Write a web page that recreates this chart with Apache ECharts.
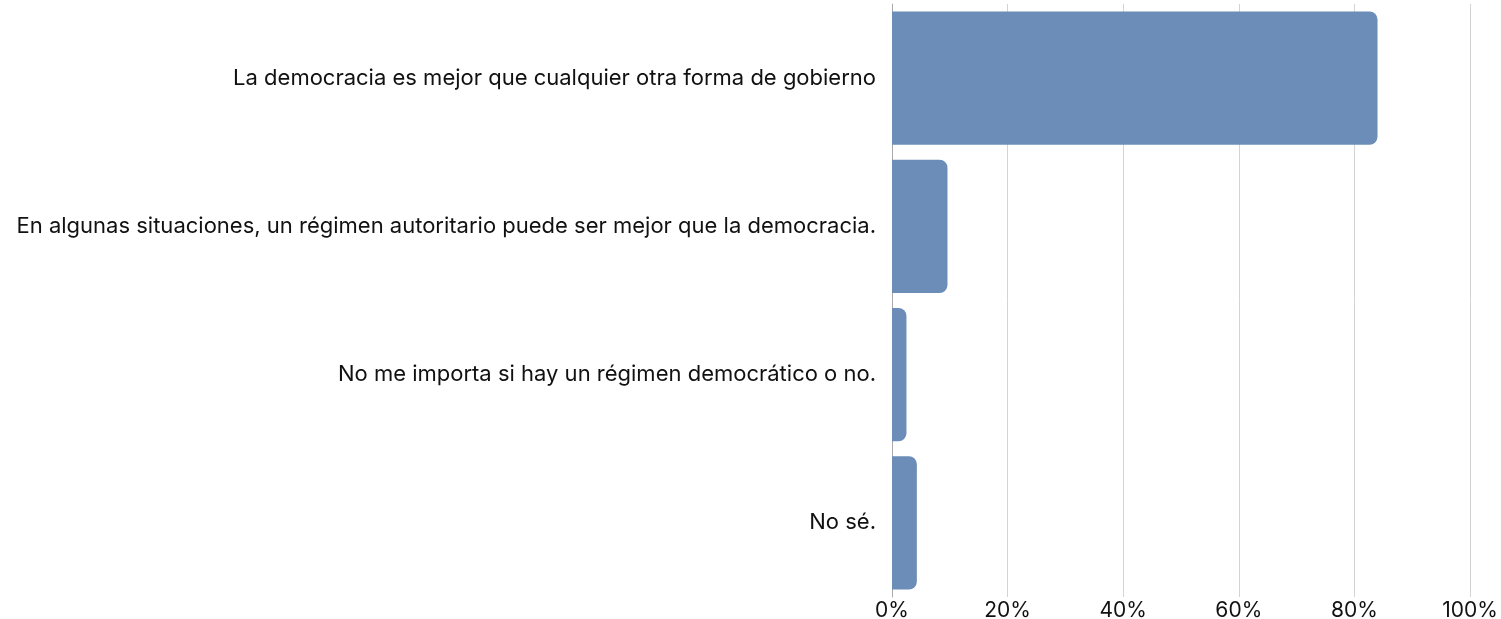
<!DOCTYPE html>
<html>
<head>
<meta charset="utf-8">
<script src="https://cdn.jsdelivr.net/npm/echarts@6/dist/echarts.min.js"></script>
<style>
  html, body { margin: 0; padding: 0; background: #fff; }
  #chart { width: 1501px; height: 619px; }
</style>
</head>
<body>
<div id="chart"></div>
<script>
// categories, top to bottom
const categories = [
  "La democracia es mejor que cualquier otra forma de gobierno",
  "En algunas situaciones, un régimen autoritario puede ser mejor que la democracia.",
  "No me importa si hay un régimen democrático o no.",
  "No sé."
];
// percentages
const values = [84.0, 9.6, 2.5, 4.3];
const xTicks = [0, 20, 40, 60, 80, 100];

const chart = echarts.init(document.getElementById("chart"));
chart.setOption({
  animation: false,
  textStyle: { fontFamily: "Inter" },
  grid: { left: 892, right: 31, top: 4, bottom: 22, containLabel: false, outerBoundsMode: "none" },
  xAxis: {
    type: "value",
    min: xTicks[0],
    max: xTicks[xTicks.length - 1],
    interval: 20,
    axisLine: { show: false },
    axisTick: { show: false },
    axisLabel: {
      formatter: v => v + "%",
      color: "#111",
      fontSize: 21,
      margin: 3
    },
    splitLine: { lineStyle: { color: "#d3d3d3", width: 1 } }
  },
  yAxis: {
    type: "category",
    inverse: true,
    data: categories,
    axisLine: { show: true, lineStyle: { color: "#aaa", width: 1 } },
    axisTick: { show: false },
    axisLabel: { color: "#111", fontSize: 22, margin: 16 }
  },
  series: [{
    type: "bar",
    data: values,
    barCategoryGap: "10%",
    itemStyle: { color: "#6b8db7", borderRadius: [0, 8, 8, 0] }
  }]
});
</script>
</body>
</html>
